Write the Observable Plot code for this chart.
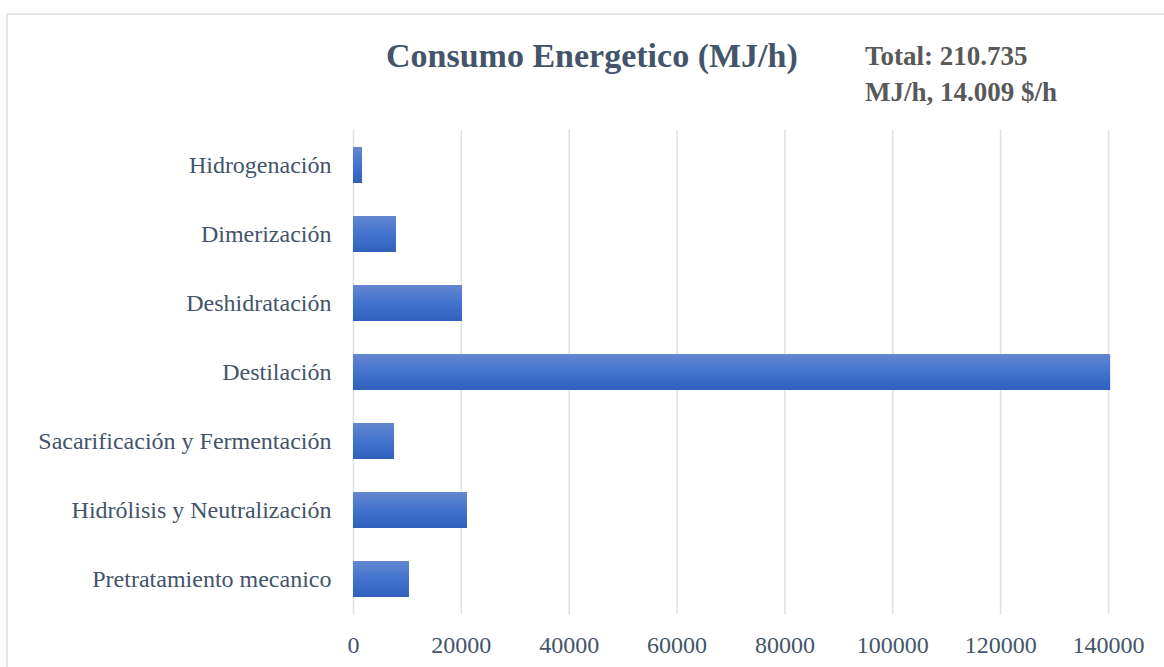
<!DOCTYPE html>
<html>
<head>
<meta charset="utf-8">
<script src="https://cdn.jsdelivr.net/npm/d3@7"></script>
<script src="https://cdn.jsdelivr.net/npm/@observablehq/plot@0.6"></script>
<style>
  html, body { margin: 0; padding: 0; background: #fff; overflow: hidden; }
  #wrap { position: relative; width: 1164px; height: 667px; }
  #frame { position: absolute; left: 6px; top: 13px; width: 1200px; height: 700px;
           border-left: 2px solid #E3E6EA; border-top: 2px solid #E3E6EA; box-sizing: border-box; }
  .title { position: absolute; font-family: "Liberation Serif", "Times New Roman", serif; font-weight: bold; white-space: nowrap; }
  #t1 { left: 386px; top: 36px; font-size: 34px; color: #44546A; line-height: 40px; }
  #t2 { left: 865px; top: 38px; font-size: 27px; color: #595959; line-height: 36px; }
  #chart { position: absolute; left: 0; top: 0; }
</style>
</head>
<body>
<div id="wrap">
  <div id="frame"></div>
  <div id="chart"></div>
  <div class="title" id="t1">Consumo Energetico (MJ/h)</div>
  <div class="title" id="t2">Total: 210.735<br>MJ/h, 14.009 $/h</div>
</div>
<script>
const categories = [
  "Hidrogenación",
  "Dimerización",
  "Deshidratación",
  "Destilación",
  "Sacarificación y Fermentación",
  "Hidrólisis y Neutralización",
  "Pretratamiento mecanico"
];
const values = [1670, 7970, 20210, 140400, 7600, 21140, 10380];
const xTicks = [0, 20000, 40000, 60000, 80000, 100000, 120000, 140000];

const data = categories.map((c, i) => ({category: c, value: values[i]}));

const chart = Plot.plot({
  width: 1164,
  height: 667,
  marginLeft: 353,
  marginRight: 56,
  marginTop: 130,
  marginBottom: 53,
  style: {fontFamily: "'Liberation Serif', 'Times New Roman', serif", fontSize: "24px", color: "#44546A", background: "transparent", overflow: "visible"},
  x: {domain: [0, 140000], ticks: xTicks, tickFormat: d => String(d), label: null},
  y: {domain: categories, paddingInner: 0.48, paddingOuter: 0.24, label: null},
  marks: [
    Plot.gridX(xTicks, {stroke: "#DDE1E6", strokeOpacity: 1, strokeWidth: 1.6}),
    Plot.barX(data, {x: "value", y: "category", fill: "#4472C4"}),
    Plot.axisX({ticks: xTicks, tickFormat: d => String(d), tickSize: 0, tickPadding: 21, fontSize: 24, fill: "#44546A", label: null}),
    Plot.axisY({tickSize: 0, tickPadding: 22, fontSize: 24, fill: "#44546A", label: null})
  ]
});

const ns = "http://www.w3.org/2000/svg";
const defs = document.createElementNS(ns, "defs");
defs.innerHTML = '<linearGradient id="barGrad" x1="0" y1="0" x2="0" y2="1">' +
  '<stop offset="0" stop-color="#6487D0"/>' +
  '<stop offset="0.5" stop-color="#4273CD"/>' +
  '<stop offset="1" stop-color="#2F60BC"/></linearGradient>';
chart.insertBefore(defs, chart.firstChild);
chart.querySelectorAll('g[aria-label="bar"] rect').forEach(r => r.setAttribute("fill", "url(#barGrad)"));

document.getElementById("chart").appendChild(chart);
</script>
</body>
</html>
